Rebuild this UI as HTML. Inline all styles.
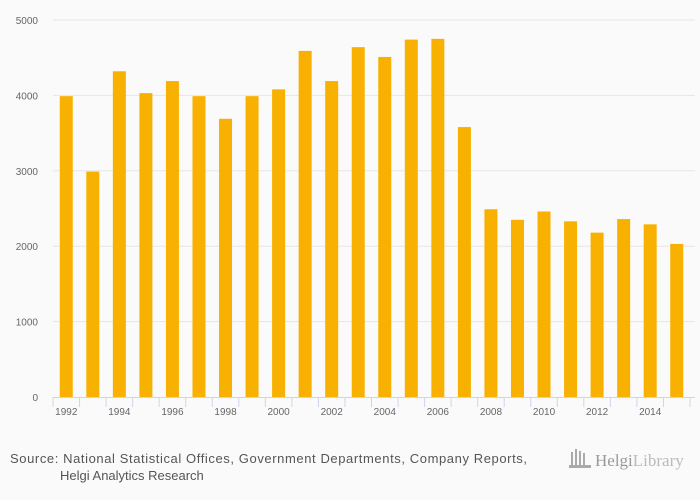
<!DOCTYPE html>
<html><head><meta charset="utf-8"><style>
body{margin:0;background:#fafafa;font-family:"Liberation Sans",sans-serif;}
svg{display:block}
</style></head><body>
<svg width="700" height="500" id="c">
<rect width="700" height="500" fill="#fafafa"/>
<g id="grid"></g><g id="bars"></g><g id="axis"></g>
<text x="10" y="463" font-size="13" fill="#555" textLength="517">Source: National Statistical Offices, Government Departments, Company Reports,</text>
<text x="60" y="480" font-size="13" fill="#555">Helgi Analytics Research</text>
<g>
<rect x="571" y="452" width="2" height="14" fill="#aaa"/><rect x="575" y="449" width="2" height="17" fill="#aaa"/><rect x="579" y="451" width="2" height="15" fill="#aaa"/><rect x="583" y="453" width="2" height="13" fill="#aaa"/><rect x="569" y="465" width="22" height="3" fill="#aaa"/>
<text x="595" y="466" font-size="17" fill="#999" font-family="Liberation Serif,serif">Helgi<tspan fill="#bbb">Library</tspan></text>
</g>
</svg>
<script>
const years=["1992","1993","1994","1995","1996","1997","1998","1999","2000","2001","2002","2003","2004","2005","2006","2007","2008","2009","2010","2011","2012","2013","2014","2015"];
const values=[3990,2990,4320,4030,4190,3990,3690,3990,4080,4590,4190,4640,4510,4740,4750,3580,2490,2350,2460,2330,2180,2360,2290,2030];
const yTicks=[0,1000,2000,3000,4000,5000];
const NS="http://www.w3.org/2000/svg";
const x0=53,x1=690,y0=397,y1=20,yMax=5000;
const bw=(x1-x0)/years.length;
const y=v=>y0-(v/yMax)*(y0-y1);
const xc=i=>x0+bw*(i+0.5);
function mk(t,a,p){const e=document.createElementNS(NS,t);for(const k in a)e.setAttribute(k,a[k]);p.appendChild(e);return e;}
const G=document.getElementById('grid'),B=document.getElementById('bars'),A=document.getElementById('axis');
yTicks.forEach(v=>{
 if(v>0){const l=mk('line',{x1:x0,x2:695,y1:y(v),y2:y(v),stroke:'#e6e6e6'},G);
 
 }
 const t=mk('text',{x:38,y:y(v)+4,'font-size':10,fill:'#666','text-anchor':'end'},G);
 t.textContent=v;
 
 
});
values.forEach((v,i)=>{
 const r=mk('rect',{x:xc(i)-6.5,y:y(v),width:13,height:y0-y(v),fill:'#f8b100'},B);
 
 
});
const ax=mk('line',{x1:x0,x2:695,y1:y0+0.5,y2:y0+0.5,stroke:'#ccd6eb'},A);


for(let i=0;i<=years.length;i++){
 const tk=mk('line',{x1:x0+bw*i,x2:x0+bw*i,y1:y0,y2:y0+10,stroke:'#ccd6eb'},A);
 
 
}
years.forEach((yr,i)=>{if(i%2)return;
 const t=mk('text',{x:xc(i),y:y0+18,'font-size':10,fill:'#666','text-anchor':'middle'},A);
 t.textContent=yr;
 
 
});
</script>
</body></html>
